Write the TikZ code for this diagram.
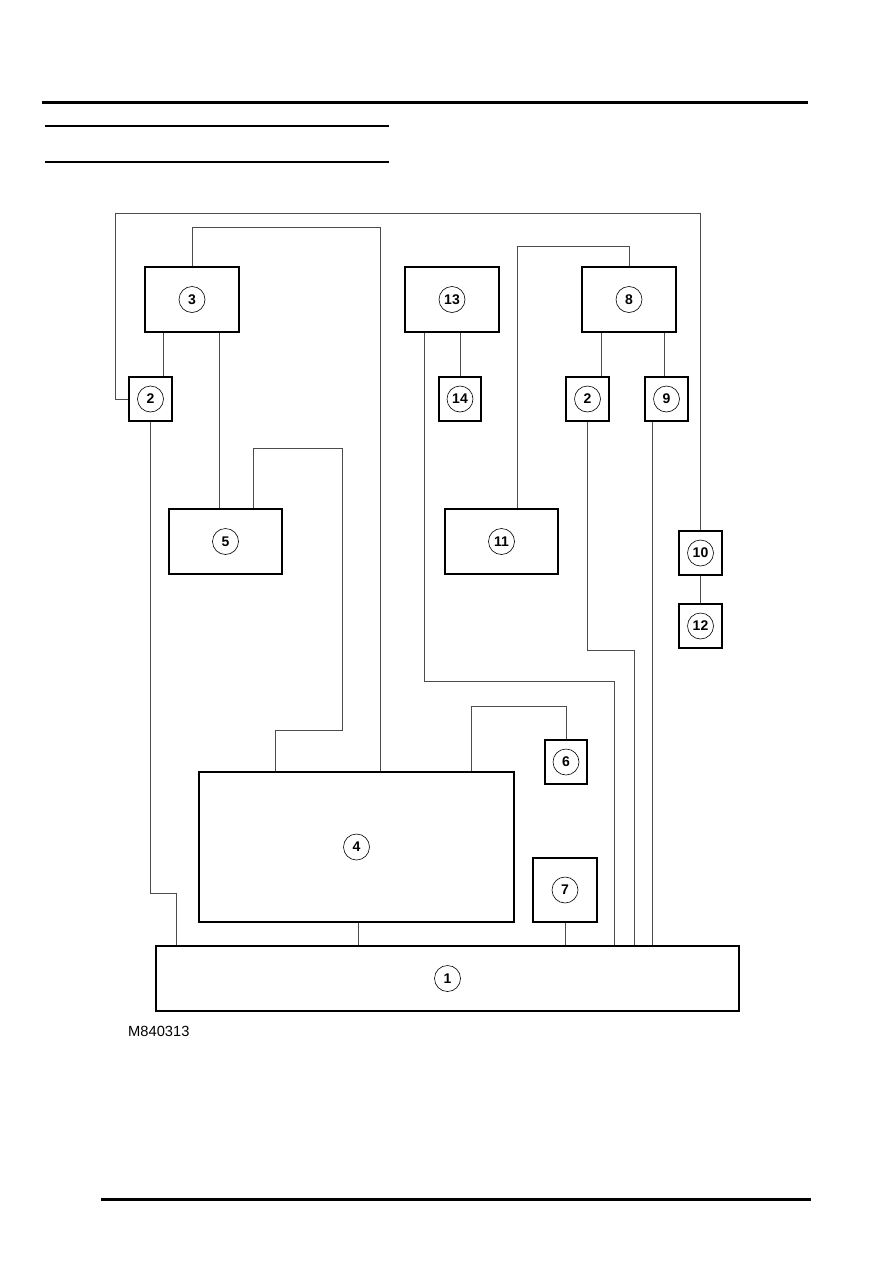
\documentclass[tikz,border=0pt]{standalone}
\usepackage{fontspec}
\setmainfont{Liberation Sans}
\usetikzlibrary{calc}
\begin{document}
\begin{tikzpicture}[x=1pt,y=-1pt,
  blk/.style={draw=black,line width=1.8pt,fill=white,rectangle,inner sep=0pt},
  num/.style={draw=black,line width=0.6pt,circle,minimum size=26pt,inner sep=0pt,font=\fontsize{14}{14}\selectfont\bfseries},
  wire/.style={draw=black!70,line width=0.9pt},
  rule/.style={draw=black,line width=3pt}]
\useasboundingbox (0,0) rectangle (893,1263);
% header and footer rules
\draw[rule] (42,102) -- (808,102);
\draw[rule,line width=2.6pt] (45,126) -- (389,126);
\draw[rule,line width=2.6pt] (45,162) -- (389,162);
\draw[rule] (101,1199) -- (811,1199);
% boxes
\node[blk,minimum width=583pt,minimum height=65pt,label={[num]center:1}] (b1) at (447.5,978.5) {};
\node[blk,minimum width=43pt,minimum height=44pt,label={[num]center:2}] (b2L) at (150.5,399) {};
\node[blk,minimum width=94pt,minimum height=65pt,label={[num]center:3}] (b3) at (192,299.5) {};
\node[blk,minimum width=315pt,minimum height=150pt,label={[num]center:4}] (b4) at (356.5,847) {};
\node[blk,minimum width=113pt,minimum height=65pt,label={[num]center:5}] (b5) at (225.5,541.5) {};
\node[blk,minimum width=42pt,minimum height=44pt,label={[num]center:6}] (b6) at (566,762) {};
\node[blk,minimum width=64pt,minimum height=64pt,label={[num]center:7}] (b7) at (565,890) {};
\node[blk,minimum width=94pt,minimum height=65pt,label={[num]center:8}] (b8) at (629,299.5) {};
\node[blk,minimum width=43pt,minimum height=44pt,label={[num]center:9}] (b9) at (666.5,399) {};
\node[blk,minimum width=43pt,minimum height=44pt,label={[num]center:10}] (b10) at (700.5,553) {};
\node[blk,minimum width=113pt,minimum height=65pt,label={[num]center:11}] (b11) at (501.5,541.5) {};
\node[blk,minimum width=43pt,minimum height=44pt,label={[num]center:12}] (b12) at (700.5,626) {};
\node[blk,minimum width=94pt,minimum height=65pt,label={[num]center:13}] (b13) at (452,299.5) {};
\node[blk,minimum width=42pt,minimum height=44pt,label={[num]center:14}] (b14) at (460,399) {};
\node[blk,minimum width=43pt,minimum height=44pt,label={[num]center:2}] (b2R) at (587.5,399) {};
% figure code
\node[anchor=base west,inner sep=0pt,font=\fontsize{14.7}{15}\selectfont] (code) at (128,1036) {M840313};
% attachment points
\coordinate (yA) at (0,213);
\coordinate (p3a) at ([xshift=19pt]b3.south west);
\coordinate (p3b) at ([xshift=75pt]b3.south west);
\coordinate (p4a) at ([xshift=182pt]b4.north west);
\coordinate (p4b) at ([xshift=77pt]b4.north west);
\coordinate (p4c) at ([xshift=273pt]b4.north west);
\coordinate (p4d) at ([xshift=160pt]b4.south west);
\coordinate (p5b) at ([xshift=85pt]b5.north west);
\coordinate (p13a) at ([xshift=20pt]b13.south west);
\coordinate (p8a) at ([xshift=20pt]b8.south west);
\coordinate (p8b) at ([xshift=83pt]b8.south west);
\coordinate (p11a) at ([xshift=73pt]b11.north west);
\coordinate (p9a) at ([xshift=8pt]b9.south west);
\coordinate (p1a) at ([xshift=459pt]b1.north west);
\coordinate (p1b) at ([xshift=479pt]b1.north west);
\coordinate (p1c) at ([xshift=21pt]b1.north west);
% connectors
\draw[wire] (b2L.west) -- ++(-13,0) |- (b10.north |- yA) -- (b10.north);
\draw[wire] (b3.north) -- ++(0,-39) -| (p4a);
\draw[wire] (p3a) -- (p3a |- b2L.north);
\draw[wire] (p3b) -- (p3b |- b5.north);
\draw[wire] (p5b) -- ++(0,-60) -- ++(89,0) -- ++(0,282) -| (p4b);
\draw[wire] (b14.north |- b13.south) -- (b14.north);
\draw[wire] (p13a) -- ++(0,349) -| (p1a);
\draw[wire] (b8.north) -- ++(0,-20) -| (p11a);
\draw[wire] (p8a) -- (p8a |- b2R.north);
\draw[wire] (p8b) -- (p8b |- b9.north);
\draw[wire] (b2R.south) -- ++(0,229) -| (p1b);
\draw[wire] (p9a) -- (p9a |- b1.north);
\draw[wire] (b2L.south) -- ++(0,472) -| (p1c);
\draw[wire] (p4c) -- ++(0,-65) -| (b6.north);
\draw[wire] (p4d) -- (p4d |- b1.north);
\draw[wire] (b7.south) -- (b7.south |- b1.north);
\draw[wire] (b10.south) -- (b12.north);
\end{tikzpicture}
\end{document}
